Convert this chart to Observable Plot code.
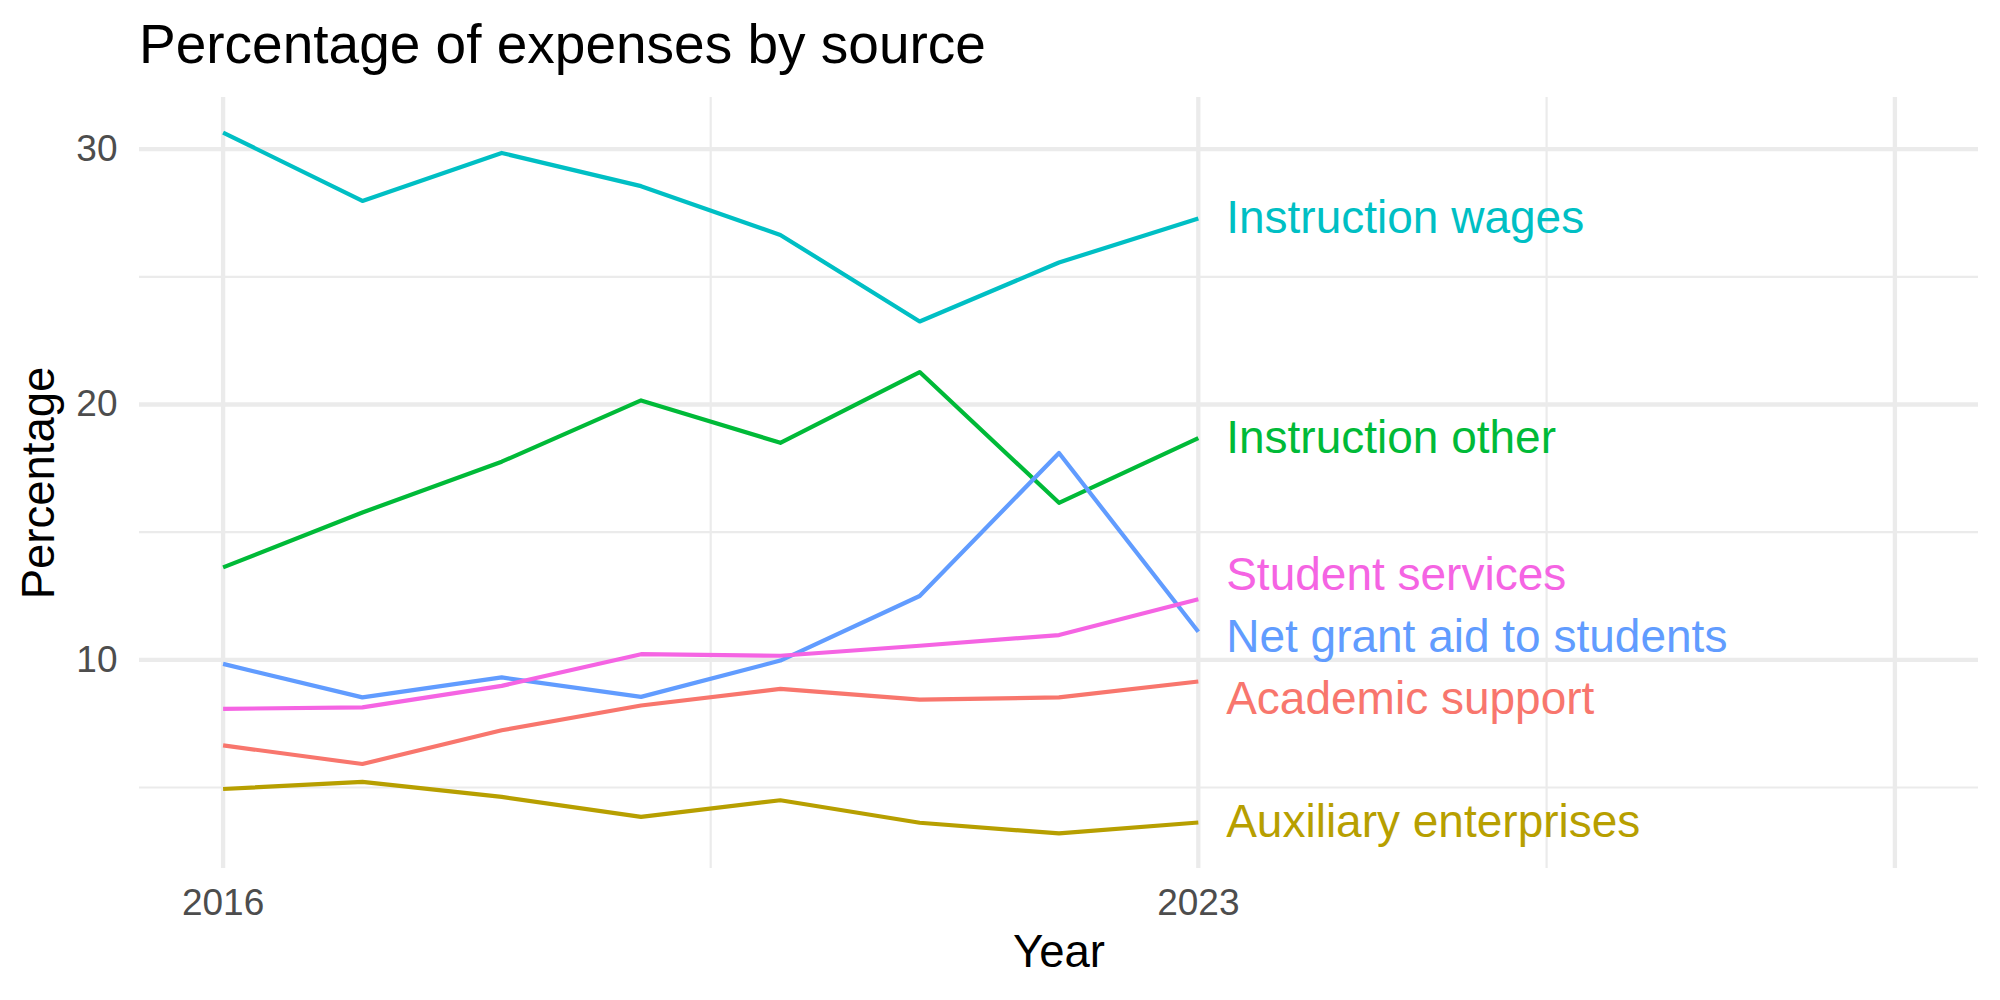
<!DOCTYPE html>
<html>
<head>
<meta charset="utf-8">
<script src="https://cdn.jsdelivr.net/npm/d3@7"></script>
<script src="https://cdn.jsdelivr.net/npm/@observablehq/plot@0.6"></script>
<style>
  html, body { margin: 0; padding: 0; background: #ffffff; }
  #chart {
    position: relative;
    width: 2000px;
    height: 1000px;
    font-family: "Liberation Sans", Arial, Helvetica, sans-serif;
  }
  #title {
    position: absolute;
    left: 139px;
    top: 17px;
    font-size: 55px;
    line-height: 55px;
    color: #000000;
    white-space: nowrap;
  }
  #chart svg { position: absolute; left: 0; top: 0; }
</style>
</head>
<body>
<div id="chart">
  <div id="title">Percentage of expenses by source</div>
</div>
<script>
// Years on the x axis
const years = [2016, 2017, 2018, 2019, 2020, 2021, 2022, 2023];

// Share of expenses (%) for each source, one value per year
const academicSupport      = [6.65, 5.92, 7.24, 8.21, 8.86, 8.44, 8.53, 9.15];
const auxiliaryEnterprises = [4.94, 5.22, 4.63, 3.85, 4.50, 3.62, 3.20, 3.63];
const instructionOther     = [13.62, 15.77, 17.76, 20.16, 18.50, 21.27, 16.15, 18.68];
const instructionWages     = [30.65, 27.97, 29.85, 28.55, 26.64, 23.25, 25.56, 27.28];
const netGrantAid          = [9.84, 8.53, 9.31, 8.55, 9.97, 12.50, 18.10, 11.10];
const studentServices      = [8.08, 8.14, 8.98, 10.22, 10.16, 10.55, 10.97, 12.37];

// Series names (legend order) and their hue colours
const seriesNames = [
  "Academic support",
  "Auxiliary enterprises",
  "Instruction other",
  "Instruction wages",
  "Net grant aid to students",
  "Student services"
];
const seriesValues = [
  academicSupport,
  auxiliaryEnterprises,
  instructionOther,
  instructionWages,
  netGrantAid,
  studentServices
];
const seriesColors = ["#F8766D", "#B79F00", "#00BA38", "#00BFC4", "#619CFF", "#F564E3"];

// Axis ticks and grid breaks
const xTicks = [2016, 2023];
const xMajorBreaks = [2016, 2023, 2028];
const xMinorBreaks = [2019.5, 2025.5];
const xLimits = [2016, 2028];
const yTicks = [10, 20, 30];
const yMinorBreaks = [5, 15, 25];

// Long-format table for the line mark
const rows = [];
seriesNames.forEach((name, i) => {
  years.forEach((yr, j) => rows.push({series: name, year: yr, value: seriesValues[i][j]}));
});

// Scale limits with 5% expansion on each side
const expand = ([a, b]) => [a - (b - a) * 0.05, b + (b - a) * 0.05];
const xDomain = expand(xLimits);
const yDomain = expand(d3.extent(rows, d => d.value));

// Frame geometry
const W = 2000, H = 1000;
const mLeft = 139, mRight = 22, mTop = 97, mBottom = 132;

// End-of-line labels: nudged right of the last year and spread vertically
// so that neighbouring labels do not overlap
const lastYear = years[years.length - 1];
const labelNudge = 0.2;
const pxPerUnit = (H - mTop - mBottom) / (yDomain[1] - yDomain[0]);
const labelGap = 62 / pxPerUnit;

const ends = seriesNames
  .map((name, i) => ({series: name, target: seriesValues[i][seriesValues[i].length - 1]}))
  .sort((a, b) => b.target - a.target);

let clusters = ends.map((e, i) => ({members: [i], center: e.target}));
let changed = true;
while (changed) {
  changed = false;
  for (let i = 0; i < clusters.length - 1; i++) {
    const a = clusters[i], b = clusters[i + 1];
    const aLow = a.center - labelGap * (a.members.length - 1) / 2;
    const bHigh = b.center + labelGap * (b.members.length - 1) / 2;
    if (aLow - bHigh < labelGap) {
      const members = a.members.concat(b.members);
      const center = d3.mean(members, k => ends[k].target);
      clusters.splice(i, 2, {members, center});
      changed = true;
      break;
    }
  }
}
const labels = [];
clusters.forEach(c => {
  const top = c.center + labelGap * (c.members.length - 1) / 2;
  c.members.forEach((k, n) => {
    labels.push({series: ends[k].series, x: lastYear + labelNudge, y: top - n * labelGap});
  });
});

const gridColor = "#EBEBEB";

const chart = Plot.plot({
  width: W,
  height: H,
  marginLeft: mLeft,
  marginRight: mRight,
  marginTop: mTop,
  marginBottom: mBottom,
  style: {
    fontFamily: "'Liberation Sans', Arial, Helvetica, sans-serif",
    background: "transparent",
    overflow: "visible"
  },
  x: {domain: xDomain},
  y: {domain: yDomain},
  color: {domain: seriesNames, range: seriesColors},
  marks: [
    // panel grid
    Plot.ruleY(yMinorBreaks, {stroke: gridColor, strokeWidth: 2.2}),
    Plot.ruleX(xMinorBreaks, {stroke: gridColor, strokeWidth: 2.2}),
    Plot.ruleY(yTicks, {stroke: gridColor, strokeWidth: 4.3}),
    Plot.ruleX(xMajorBreaks, {stroke: gridColor, strokeWidth: 4.3}),
    // axes: tick labels and titles
    Plot.axisX({ticks: xTicks, tickFormat: "d", tickSize: 0, tickPadding: 20, fontSize: 37, color: "#4D4D4D",
      label: null}),
    Plot.axisX({ticks: [], label: "Year", labelAnchor: "center", labelArrow: "none", labelOffset: 98,
      fontSize: 45.5, color: "#000000"}),
    Plot.axisY({ticks: yTicks, tickSize: 0, tickPadding: 22, fontSize: 37, color: "#4D4D4D", label: null}),
    Plot.axisY({ticks: [], label: "Percentage", labelAnchor: "center", labelArrow: "none", labelOffset: 118,
      fontSize: 45.5, color: "#000000"}),
    // series
    Plot.line(rows, {
      x: "year", y: "value", z: "series", stroke: "series",
      strokeWidth: 4.2, strokeLinecap: "butt", strokeLinejoin: "round"
    }),
    Plot.text(labels, {
      x: "x", y: "y", text: "series", fill: "series",
      textAnchor: "start", lineAnchor: "middle", fontSize: 46
    })
  ]
});

document.getElementById("chart").appendChild(chart);
</script>
</body>
</html>
